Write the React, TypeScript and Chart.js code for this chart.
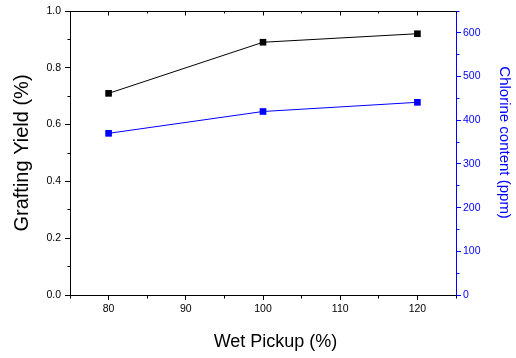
import React, { useEffect, useRef } from "react";
import { Chart, registerables } from "chart.js";

Chart.register(...registerables);

// ---- data ----
const wetPickup = [80, 100, 120];
const graftingYield = [0.71, 0.89, 0.92];
const chlorineContent = [370, 420, 441];

// ---- axes ----
const xTickValues = [80, 90, 100, 110, 120];
const yTickValues = [0, 0.2, 0.4, 0.6, 0.8, 1.0];
const y1TickValues = [0, 100, 200, 300, 400, 500, 600];
const xRange = [75, 125];
const yRange = [0, 1];
const y1Range = [0, 650];
const xMinorStep = 5;
const yMinorStep = 0.1;
const y1MinorStep = 50;

const xTitle = "Wet Pickup (%)";
const yTitle = "Grafting Yield (%)";
const y1Title = "Chlorine content (ppm)";

const BLUE = "#0000ff";
const BLACK = "#000000";
const FONT = "'Liberation Sans', Arial, sans-serif";

function near(list: number[], v: number) {
  return list.some((t) => Math.abs(t - v) < 1e-6);
}

const frameTicks = {
  id: "frameTicks",
  afterDraw(chart: any) {
    const { ctx, chartArea: a, scales } = chart;
    const sx = scales.x;
    const sy = scales.y;
    const sy1 = scales.y1;
    const al = (p: number) => Math.round(p - 0.5) + 0.5;
    const seg = (x0: number, y0: number, x1: number, y1: number, c: string) => {
      ctx.strokeStyle = c;
      ctx.beginPath();
      ctx.moveTo(x0, y0);
      ctx.lineTo(x1, y1);
      ctx.stroke();
    };
    ctx.save();
    ctx.lineWidth = 1;
    const top = al(a.top);
    const bottom = al(a.bottom);
    const left = al(a.left);
    const right = al(a.right);
    // top frame line
    seg(a.left, top, a.right, top, BLACK);
    // x: top inward ticks, bottom minor ticks
    for (let v = xRange[0]; v <= xRange[1] + 1e-9; v += xMinorStep) {
      const px = al(sx.getPixelForValue(v));
      const major = near(xTickValues, v);
      seg(px, top, px, top + (major ? 4 : 2), BLACK);
      if (!major) seg(px, bottom, px, bottom + 3, BLACK);
    }
    // left minor ticks
    for (let v = yRange[0]; v <= yRange[1] + 1e-9; v += yMinorStep) {
      if (near(yTickValues, v)) continue;
      const py = al(sy.getPixelForValue(v));
      seg(left - 3, py, left, py, BLACK);
    }
    // right minor ticks
    for (let v = y1Range[0]; v <= y1Range[1] + 1e-9; v += y1MinorStep) {
      if (near(y1TickValues, v)) continue;
      const py = al(sy1.getPixelForValue(v));
      seg(right, py, right + 3, py, BLUE);
    }
    ctx.restore();
  },
};

export default function App() {
  const ref = useRef<HTMLCanvasElement | null>(null);

  useEffect(() => {
    document.body.style.margin = "0";
    const canvas = ref.current;
    if (!canvas) return;

    const chart = new Chart(canvas, {
      type: "line",
      data: {
        datasets: [
          {
            label: yTitle,
            data: wetPickup.map((x, i) => ({ x, y: graftingYield[i] })),
            borderColor: BLACK,
            backgroundColor: BLACK,
            borderWidth: 1,
            pointStyle: "rect",
            pointRadius: 4.7,
            pointBorderWidth: 0,
            yAxisID: "y",
          },
          {
            label: y1Title,
            data: wetPickup.map((x, i) => ({ x, y: chlorineContent[i] })),
            borderColor: BLUE,
            backgroundColor: BLUE,
            borderWidth: 1,
            pointStyle: "rect",
            pointRadius: 4.7,
            pointBorderWidth: 0,
            yAxisID: "y1",
          },
        ],
      },
      options: {
        animation: false,
        responsive: false,
        maintainAspectRatio: false,
        layout: { padding: { top: 11, left: 0, right: 0, bottom: 0 } },
        plugins: {
          legend: { display: false },
          tooltip: { enabled: false },
        },
        scales: {
          x: {
            type: "linear",
            position: "bottom",
            min: xRange[0],
            max: xRange[1],
            afterBuildTicks: (s: any) => {
              s.ticks = xTickValues.map((value) => ({ value }));
            },
            afterFit: (s: any) => {
              s.height = 63;
            },
            ticks: {
              color: BLACK,
              padding: 3,
              maxRotation: 0,
              font: { family: FONT, size: 10.5 },
              callback: (v: any) => String(v),
            },
            grid: {
              display: true,
              drawOnChartArea: false,
              drawTicks: true,
              tickLength: 5,
              tickColor: BLACK,
              tickWidth: 1,
            },
            border: { display: true, color: BLACK, width: 1 },
            title: {
              display: true,
              text: "\u00a0\u00a0\u00a0\u00a0\u00a0" + xTitle,
              color: BLACK,
              font: { family: FONT, size: 18 },
              padding: { top: 0, bottom: 5 },
            },
          },
          y: {
            type: "linear",
            position: "left",
            min: yRange[0],
            max: yRange[1],
            afterBuildTicks: (s: any) => {
              s.ticks = yTickValues.map((value) => ({ value }));
            },
            afterFit: (s: any) => {
              s.width = 70;
            },
            ticks: {
              color: BLACK,
              padding: 4,
              font: { family: FONT, size: 10.5 },
              callback: (v: any) => Number(v).toFixed(1),
            },
            grid: {
              display: true,
              drawOnChartArea: false,
              drawTicks: true,
              tickLength: 5,
              tickColor: BLACK,
              tickWidth: 1,
            },
            border: { display: true, color: BLACK, width: 1 },
            title: {
              display: true,
              text: yTitle,
              color: BLACK,
              font: { family: FONT, size: 20 },
              padding: { top: 10, bottom: 0 },
            },
          },
          y1: {
            type: "linear",
            position: "right",
            min: y1Range[0],
            max: y1Range[1],
            afterBuildTicks: (s: any) => {
              s.ticks = y1TickValues.map((value) => ({ value }));
            },
            afterFit: (s: any) => {
              s.width = 60;
            },
            ticks: {
              color: BLUE,
              padding: 2,
              font: { family: FONT, size: 10.5 },
              callback: (v: any) => String(v),
            },
            grid: {
              display: true,
              drawOnChartArea: false,
              drawTicks: true,
              tickLength: 5,
              tickColor: BLUE,
              tickWidth: 1,
            },
            border: { display: true, color: BLUE, width: 1 },
            title: {
              display: true,
              text: y1Title + "\u00a0\u00a0\u00a0\u00a0\u00a0",
              color: BLUE,
              font: { family: FONT, size: 15 },
              padding: { top: 3, bottom: 0 },
            },
          },
        },
      },
      plugins: [frameTicks],
    } as any);

    return () => chart.destroy();
  }, []);

  return (
    <div style={{ width: 516, height: 358, background: "#fff" }}>
      <canvas ref={ref} width={516} height={358} style={{ display: "block", width: 516, height: 358 }} />
    </div>
  );
}
